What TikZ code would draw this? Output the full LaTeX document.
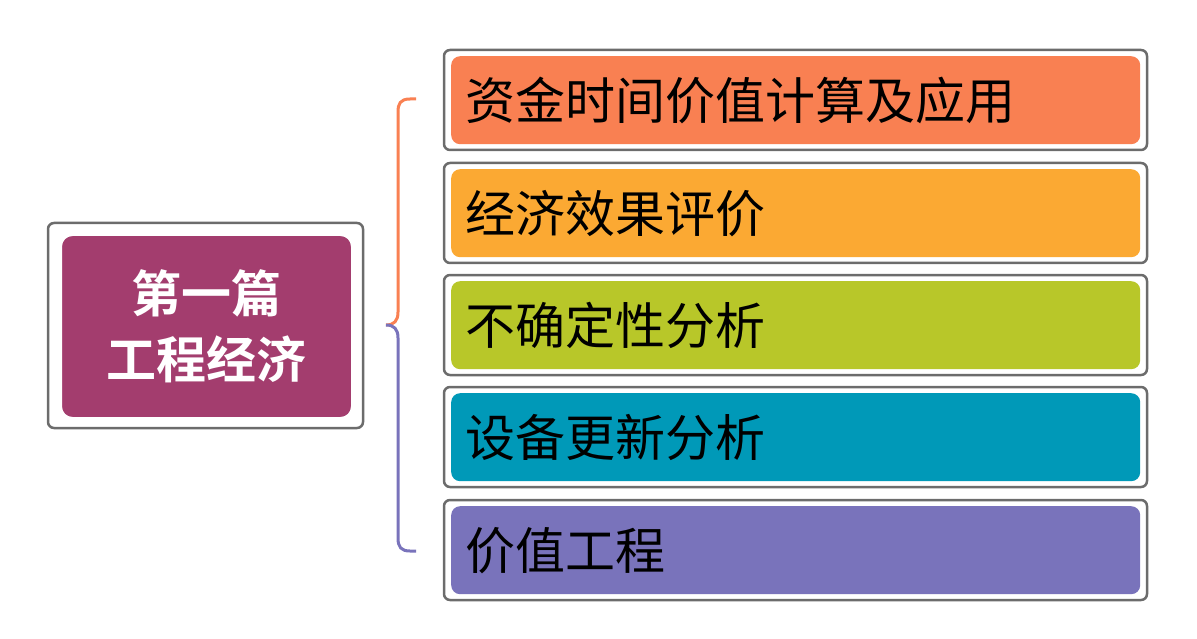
\documentclass[tikz,border=0pt]{standalone}
\usepackage{fontspec}
\newfontfamily\cjk{Noto Sans CJK SC}
\newfontfamily\cjkb{Noto Sans CJK SC Bold}
\begin{document}
\begin{tikzpicture}[x=1pt,y=-1pt,
  frame/.style={draw=gray!85!black,line width=2.5pt,rounded corners=6pt,fill=white},
  item/.style={rounded corners=9pt,anchor=north west,minimum width=689pt,minimum height=88pt,text width=660pt,align=left,inner xsep=14pt,font=\cjk\fontsize{50pt}{55pt}\selectfont,text=black},
]
\useasboundingbox (0,0) rectangle (1197,639);
% left
\draw[frame] (48,223) rectangle (363,428);
\node[fill={rgb,255:red,163;green,61;blue,110},draw=white,line width=3pt,rounded corners=12pt,minimum width=292pt,minimum height=184pt,anchor=north west,align=center,text=white,font=\cjkb\fontsize{50pt}{66pt}\selectfont] (root) at (59,233) {第一篇\\工程经济};
% right
\foreach \y/\c/\t/\n in {50/F98052/资金时间价值计算及应用/a,163/FBA933/经济效果评价/b,275/B8C729/不确定性分析/c,387/0099B8/设备更新分析/d,500/7973BB/价值工程/e}{
  \draw[frame] (444,\y) rectangle (1147,\y+100);
  \definecolor{cc}{HTML}{\c}
  \node[item,fill=cc] (\n) at (451,\y+6) {\t};
}
\definecolor{te}{HTML}{F98052}
\definecolor{tp}{HTML}{7973BB}
\coordinate (m) at (386,325);
\coordinate (t1) at (416,99);
\coordinate (t2) at (416,551);
\draw[te,line width=3pt] (t1) -- (410,99) .. controls (400,99) and (398,104) .. (398,112) -- (398,312) .. controls (398,321) and (394,325) .. (m);
\draw[tp,line width=3pt] (m) .. controls (394,325) and (398,329) .. (398,338) -- (398,538) .. controls (398,547) and (401,551) .. (410,551) -- (t2);
\end{tikzpicture}
\end{document}
